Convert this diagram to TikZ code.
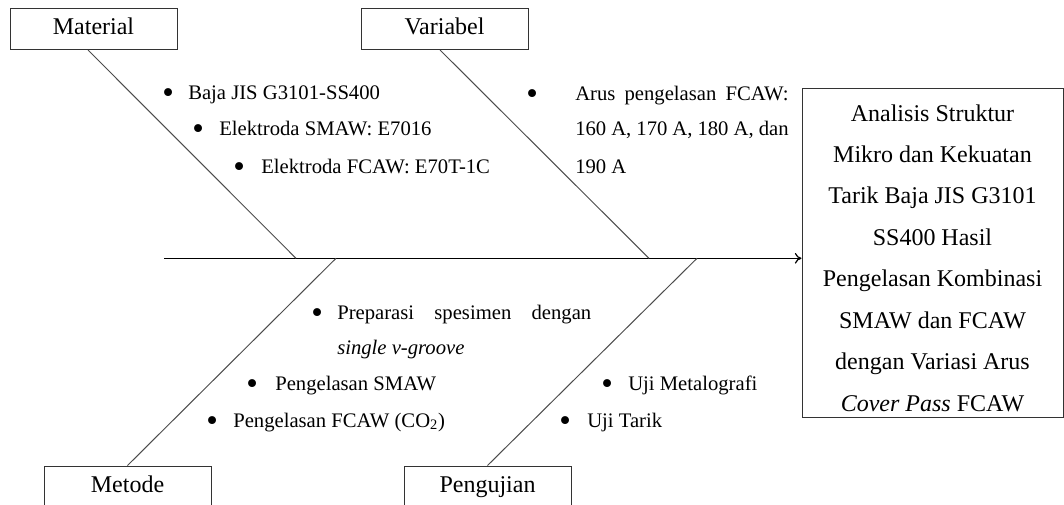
\documentclass[tikz,border=0pt]{standalone}
\usepackage{fontspec}
\setmainfont{Liberation Serif}
\usetikzlibrary{calc,arrows.meta}
\newcommand\itm[1]{\makebox[0pt][c]{\raisebox{-3pt}{\scalebox{1.6}{\textbullet}}}\hspace{#1}}
\begin{document}
\begin{tikzpicture}[x=0.75pt,y=-0.75pt,
 cat/.style={draw=black!80,line width=0.75pt,minimum width=125.25pt,minimum height=30.75pt,inner sep=0pt,text height=12pt,text depth=3.5pt,font=\fontsize{18}{20}\selectfont},
 item/.style={anchor=base west,inner sep=0pt,font=\fontsize{15.5}{18}\selectfont},
 bone/.style={draw=black!70,line width=0.75pt},
 spine/.style={draw=black,line width=0.9pt,-{To[length=5pt,width=8pt]}},
 goalbox/.style={draw=black!80,line width=0.75pt,minimum width=195.75pt,minimum height=246.75pt,inner sep=0pt},
 goaltext/.style={align=center,inner sep=0pt,font=\fontsize{18}{31.1}\selectfont}]
\useasboundingbox (0,0) rectangle (1064,504);
% category boxes
\node[cat] (mat) at (93.5,29) {Material};
\node[cat] (var) at (444.5,29) {Variabel};
\node[cat] (met) at (127.5,486.5) {Metode};
\node[cat] (pen) at (487.5,486.5) {Pengujian};
% goal box
\node[goalbox] (goal) at (932.5,252.5) {};
\node[goaltext] (gtext) at ($(goal.center)+(0,5.5)$) {Analisis Struktur\\Mikro dan Kekuatan\\Tarik Baja JIS G3101\\SS400 Hasil\\Pengelasan Kombinasi\\SMAW dan FCAW\\dengan Variasi Arus\\\textit{Cover Pass} FCAW};
% spine
\coordinate (s0) at (164,258.3);
\draw[spine] (s0) -- (goal.west |- s0);
\coordinate (jm) at (296,258.3);
\coordinate (jv) at (649,258.3);
\coordinate (jme) at (336,258.3);
\coordinate (jp) at (697,258.3);
\draw[bone] ($(mat.south)+(-5.5,0)$) -- (jm);
\draw[bone] ($(var.south)+(-4.5,0)$) -- (jv);
\draw[bone] (met.north) -- (jme);
\draw[bone] (pen.north) -- (jp);
% Material items
\node[item] (m1) at (168,99) {\itm{15pt}Baja JIS G3101-SS400};
\node[item] (m2) at (198,135) {\itm{15.75pt}Elektroda SMAW: E7016};
\node[item] (m3) at (239,173) {\itm{16.5pt}Elektroda FCAW: E70T-1C};
% Variabel items
\node[item] (v1) at (532,100) {\itm{32.25pt}\makebox[160pt][s]{Arus pengelasan FCAW:}};
\node[item] (v2) at (575,135) {\makebox[160pt][s]{160 A, 170 A, 180 A, dan}};
\node[item] (v3) at (575,173) {190 A};
% Metode items
\node[item] (e1) at (317,319) {\itm{15pt}\makebox[190.5pt][s]{Preparasi spesimen dengan}};
\node[item] (e2) at (337,354) {\textit{single v-groove}};
\node[item] (e3) at (252,390) {\itm{17.25pt}Pengelasan SMAW};
\node[item] (e4) at (212,427) {\itm{15.75pt}Pengelasan FCAW (CO\textsubscript{2})};
% Pengujian items
\node[item] (p1) at (607,390) {\itm{15.75pt}Uji Metalografi};
\node[item] (p2) at (565,427) {\itm{16.5pt}Uji Tarik};
\end{tikzpicture}
\end{document}
